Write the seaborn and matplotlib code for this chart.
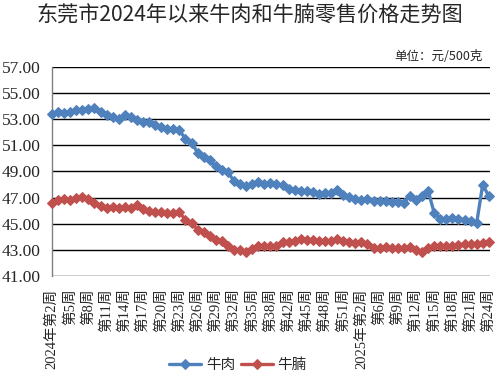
import pandas as pd
import matplotlib
matplotlib.use("Agg")
import matplotlib.pyplot as plt
import seaborn as sns

# -----------------------------
# Veri
# -----------------------------
beef = [53.41, 53.55, 53.48, 53.55, 53.75, 53.70, 53.82, 53.88, 53.59, 53.33,
        53.15, 53.02, 53.30, 53.15, 52.97, 52.82, 52.80, 52.60, 52.40, 52.25,
        52.28, 52.15, 51.51, 51.21, 50.44, 50.13, 49.87, 49.41, 49.15, 48.95,
        48.26, 48.08, 47.87, 48.05, 48.22, 48.05, 48.13, 48.05, 47.95, 47.69,
        47.62, 47.54, 47.49, 47.41, 47.28, 47.36, 47.36, 47.62, 47.18, 47.03,
        46.92, 46.85, 46.88, 46.77, 46.72, 46.72, 46.67, 46.64, 46.59, 47.15,
        46.85, 47.10, 47.54, 45.82, 45.38, 45.36, 45.44, 45.38, 45.31, 45.23,
        45.05, 48.00, 47.10]

brisket = [46.62, 46.80, 46.87, 46.80, 47.00, 47.05, 46.87, 46.56, 46.36, 46.23,
           46.31, 46.23, 46.31, 46.23, 46.41, 46.10, 45.95, 45.87, 45.87, 45.82,
           45.82, 45.87, 45.31, 45.05, 44.54, 44.33, 44.08, 43.77, 43.64, 43.31,
           42.95, 43.00, 42.87, 43.05, 43.33, 43.26, 43.26, 43.33, 43.59, 43.59,
           43.69, 43.85, 43.77, 43.77, 43.64, 43.69, 43.69, 43.85, 43.69, 43.59,
           43.51, 43.59, 43.48, 43.13, 43.13, 43.18, 43.13, 43.13, 43.13, 43.18,
           43.00, 42.87, 43.13, 43.26, 43.26, 43.26, 43.33, 43.38, 43.44, 43.44,
           43.44, 43.51, 43.59]

tick_labels = ["2024年第2周", "第5周", "第8周", "第11周", "第14周", "第17周",
               "第20周", "第23周", "第26周", "第29周", "第32周", "第35周",
               "第38周", "第42周", "第45周", "第48周", "第51周", "2025年第2周",
               "第6周", "第9周", "第12周", "第15周", "第18周", "第21周", "第24周"]

y_ticks = [41, 43, 45, 47, 49, 51, 53, 55, 57]

df = pd.DataFrame({"idx": range(len(beef)), "牛肉": beef, "牛腩": brisket})

# -----------------------------
# Grafik
# -----------------------------
sns.set_style("white")
plt.rcParams["font.family"] = ["Liberation Serif", "Noto Sans CJK SC"]

fig = plt.figure(figsize=(5, 3.79), dpi=100)
ax = fig.add_axes([0.104, 0.272, 0.876, 0.551])

blue = "#4F81BD"
red = "#C0504D"
sns.lineplot(data=df, x="idx", y="牛肉", ax=ax, color=blue, marker="D",
             markersize=5.5, markeredgecolor=blue, linewidth=2.4,
             label="牛肉", clip_on=False, zorder=3)
sns.lineplot(data=df, x="idx", y="牛腩", ax=ax, color=red, marker="D",
             markersize=5.5, markeredgecolor=red, linewidth=2.4,
             label="牛腩", clip_on=False, zorder=3)

ax.set_ylim(41, 57)
ax.set_xlim(0, len(beef) - 0.8)
ax.set_yticks(y_ticks)
ax.set_yticklabels([f"{v:.2f}" for v in y_ticks], fontsize=12.5,
                   family="Liberation Serif")
ax.set_xticks(range(0, len(beef), 3))
ax.set_xticklabels(tick_labels, rotation=90, fontsize=10.5,
                   family=["Liberation Serif", "Noto Sans CJK SC"])
ax.tick_params(axis="y", length=0, pad=8)
ax.tick_params(axis="x", length=0, pad=9)

ax.grid(axis="y", color="black", linewidth=1)
ax.set_axisbelow(True)
for s in ["top", "right", "bottom"]:
    ax.spines[s].set_visible(False)
ax.spines["left"].set_color("#808080")
ax.spines["left"].set_linewidth(1)
ax.set_xlabel("")
ax.set_ylabel("")

ax.legend_.remove()
h, l = ax.get_legend_handles_labels()
fig.legend(h, l, loc="center", bbox_to_anchor=(0.476, 0.037), ncol=2,
           frameon=False, handlelength=2.2, columnspacing=0.4,
           handletextpad=0.3, prop={"family": "Noto Sans CJK SC", "size": 10.5})

fig.text(0.5, 0.96, "东莞市2024年以来牛肉和牛腩零售价格走势图", ha="center",
         va="center", fontsize=15.2, family=["Noto Sans CJK SC"])
fig.text(0.965, 0.85, "单位：元/500克", ha="right", va="center", fontsize=9,
         family=["Noto Sans CJK SC"])

plt.savefig("out.png", dpi=100)
